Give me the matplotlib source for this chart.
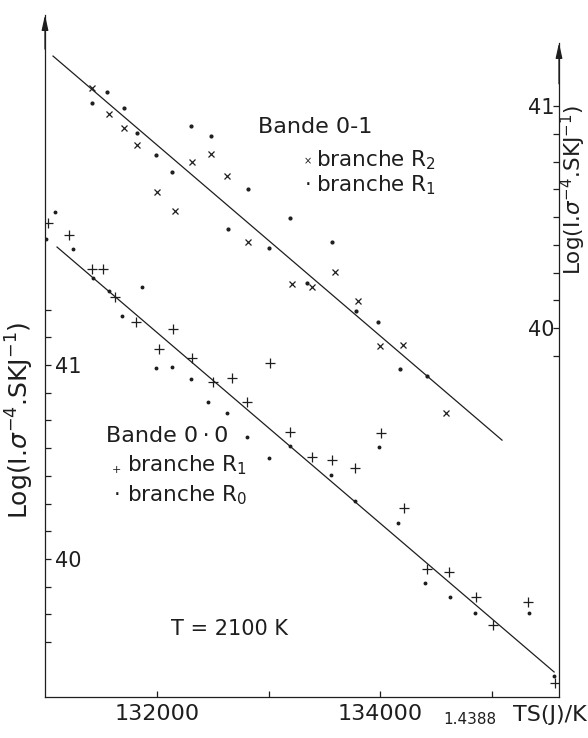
import numpy as np
import matplotlib.pyplot as plt
from matplotlib.ticker import FixedLocator, NullFormatter

plt.rcParams['font.family'] = ['DejaVu Sans']
ink = '#1e1e1e'

# Bande 0-1 (right axis)
x_r2_01 = [131417, 131569, 131704, 131821, 132000, 132161, 132314, 132484, 132628,
           132816, 133211, 133390, 133596, 133803, 134000, 134206, 134592]
y_r2_01 = [41.081, 40.964, 40.901, 40.824, 40.613, 40.527, 40.748, 40.784, 40.685,
           40.387, 40.198, 40.185, 40.252, 40.122, 39.919, 39.923, 39.617]
x_r1_01 = [131552, 131417, 131704, 131821, 131991, 132135, 132305, 132484, 132637,
           132816, 133005, 133193, 133570, 133345, 133785, 133982, 134179, 134422]
y_r1_01 = [41.063, 41.014, 40.991, 40.878, 40.779, 40.703, 40.910, 40.865, 40.446,
           40.626, 40.360, 40.495, 40.387, 40.203, 40.077, 40.027, 39.815, 39.784]
fit_x_01 = [131067, 135094]
fit_y_01 = [41.225, 39.495]

# Bande 0-0 (left axis)
x_r1_00 = [131022, 131211, 131417, 131516, 131623, 131812, 132144, 132018, 132314,
           132502, 132673, 133013, 132807, 133193, 133390, 133570, 133776, 134009,
           134215, 134422, 134619, 134861, 135013, 135327, 135570]
y_r1_00 = [41.732, 41.670, 41.495, 41.495, 41.351, 41.222, 41.186, 41.082, 41.036,
           40.912, 40.933, 41.010, 40.809, 40.655, 40.526, 40.510, 40.469, 40.649,
           40.263, 39.948, 39.933, 39.804, 39.660, 39.778, 39.361]
x_r0_00 = [131085, 131004, 131247, 131426, 131569, 131865, 131686, 131991, 132135,
           132305, 132457, 132628, 132807, 133193, 133005, 133561, 133991, 133776,
           134161, 134404, 134628, 134852, 135336, 135561]
y_r0_00 = [41.789, 41.649, 41.598, 41.448, 41.381, 41.402, 41.253, 40.985, 40.990,
           40.928, 40.809, 40.753, 40.629, 40.582, 40.521, 40.433, 40.577, 40.299,
           40.186, 39.876, 39.804, 39.722, 39.722, 39.397]
fit_x_00 = [131103, 135561]
fit_y_00 = [41.608, 39.418]

fig = plt.figure(figsize=(5.88, 7.38), dpi=100)
ax = fig.add_axes([45/588, 41/738, 514/588, 682/738])
ax.set_xlim(130995, 135605)
ax.set_ylim(39.289, 42.804)
ax2 = ax.twinx()
ax2.set_ylim(38.338, 41.41)

for s in ['top', 'right']:
    ax.spines[s].set_visible(False)
for s in ['top', 'left', 'bottom']:
    ax2.spines[s].set_visible(False)
ax2.spines['right'].set_bounds(38.338, 41.284)
for a in (ax, ax2):
    for s in a.spines.values():
        s.set_color(ink)
        s.set_linewidth(0.9)

# fits and points
ax2.plot(fit_x_01, fit_y_01, color=ink, lw=0.9)
ax2.plot(x_r2_01, y_r2_01, 'x', color=ink, ms=5, mew=0.9)
ax2.plot(x_r1_01, y_r1_01, 'o', color=ink, ms=2)
ax.plot(fit_x_00, fit_y_00, color=ink, lw=0.9)
ax.plot(x_r1_00, y_r1_00, '+', color=ink, ms=7, mew=0.9)
ax.plot(x_r0_00, y_r0_00, 'o', color=ink, ms=1.8)

# ticks
ax.xaxis.set_major_locator(FixedLocator([132000, 134000]))
ax.xaxis.set_minor_locator(FixedLocator([133000, 135000]))
ax.set_xticklabels(['132000', '134000'])
ax.tick_params(axis='x', which='both', direction='in', length=4, width=0.9,
               color=ink, labelsize=16, labelcolor=ink, pad=5)

ax.yaxis.set_major_locator(FixedLocator([40, 41]))
ax.yaxis.set_minor_locator(FixedLocator([40 + k/7 for k in range(-3, 10) if k not in (0, 7)]))
ax.set_yticklabels(['40', '41'])
ax.tick_params(axis='y', which='both', direction='in', length=4, width=0.9,
               color=ink, labelsize=15, labelcolor=ink, pad=-7)
for t in ax.get_yticklabels():
    t.set_horizontalalignment('left')

ax2.yaxis.set_major_locator(FixedLocator([40, 41]))
ax2.yaxis.set_minor_locator(FixedLocator([40 + k/8 for k in range(-1, 8) if k != 0]))
ax2.set_yticklabels(['40', '41'])
ax2.tick_params(axis='y', which='both', direction='in', length=4, width=0.9,
                color=ink, labelsize=15, labelcolor=ink, pad=-3)
for t in ax2.get_yticklabels():
    t.set_horizontalalignment('right')

# axis arrows
arr = dict(arrowstyle='-|>,head_length=0.9,head_width=0.2', lw=0.9, color=ink,
           shrinkA=0, shrinkB=0)
ax.annotate('', xy=(0, 1), xytext=(0, 0.95), xycoords='axes fraction',
            arrowprops=arr, annotation_clip=False)
ax2.annotate('', xy=(1, 41.284), xytext=(1, 41.1), xycoords=ax2.get_yaxis_transform(),
             arrowprops=arr, annotation_clip=False)

# axis labels
ylab = r'Log(I.$\sigma^{-4}$.SKJ$^{-1}$)'
fig.text(20/588, 1 - 420/738, ylab, rotation=90, fontsize=18, color=ink,
         ha='center', va='center')
fig.text(573/588, 1 - 190/738, ylab, rotation=90, fontsize=15.5, color=ink,
         ha='center', va='center')
fig.text(443/588, 1 - 719/738, '1.4388', fontsize=11, color=ink, ha='left', va='center')
fig.text(513/588, 1 - 715/738, 'TS(J)/K', fontsize=16, color=ink, ha='left', va='center')

# annotations
def ftxt(x, y, s, size=15.5, **kw):
    fig.text(x/588, 1 - y/738, s, fontsize=size, color=ink, va='center', **kw)

ftxt(258, 127, 'Bande 0-1', size=16)
ftxt(308, 161, '×', size=7, ha='center')
ftxt(316, 160, 'branche R$_2$')
ftxt(308, 185, '·', size=15, ha='center')
ftxt(316, 185, 'branche R$_1$')
ftxt(106, 436, 'Bande 0\u2009·\u20090', size=16)
ftxt(116, 470, '+', size=8, ha='center')
ftxt(127, 465, 'branche R$_1$')
ftxt(117, 495, '·', size=15, ha='center')
ftxt(127, 495, 'branche R$_0$')
ftxt(171, 629, 'T = 2100 K', size=15)

fig.savefig('out.png', dpi=100)
